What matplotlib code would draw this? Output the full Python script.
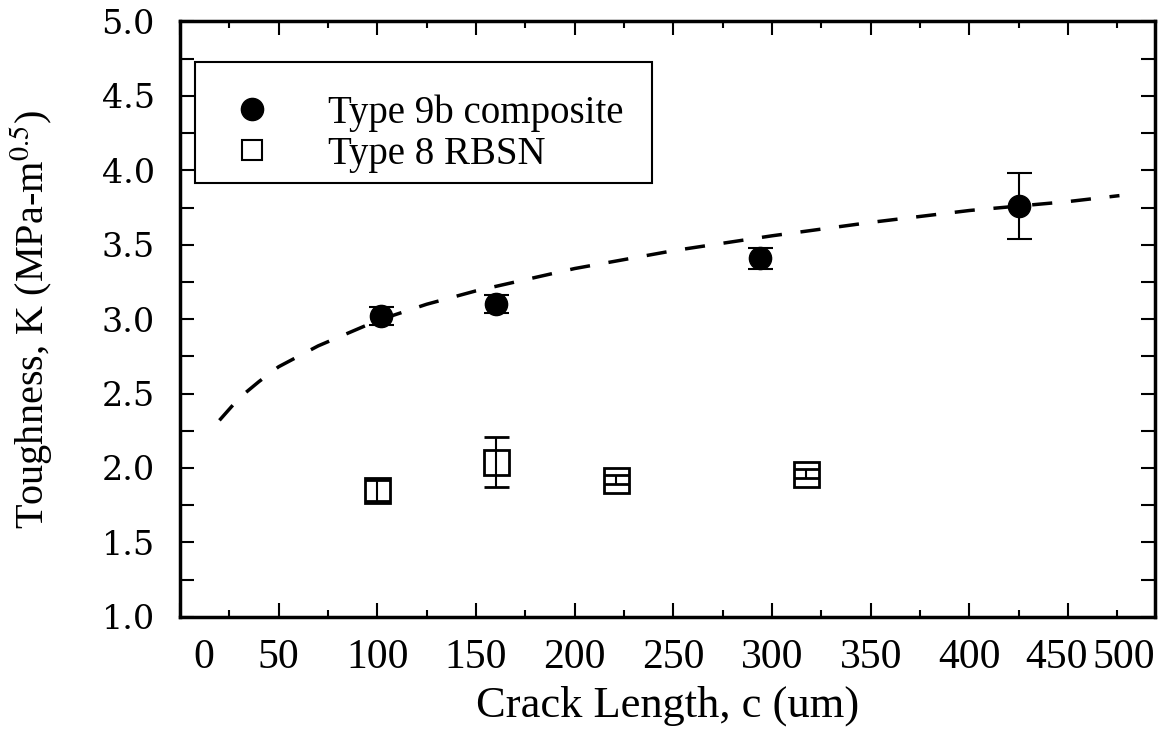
import matplotlib
matplotlib.use("Agg")
import matplotlib.pyplot as plt
from matplotlib.lines import Line2D
from matplotlib.patches import Rectangle
from matplotlib.ticker import MultipleLocator
from matplotlib.transforms import ScaledTranslation

plt.rcParams['font.family'] = ['Liberation Serif', 'DejaVu Serif']
plt.rcParams['mathtext.fontset'] = 'stix'

# Type 9b composite (filled circles)
comp_c = [102, 160, 294, 425]
comp_k = [3.02, 3.10, 3.41, 3.76]
comp_err = [0.06, 0.06, 0.07, 0.22]

# Type 8 RBSN (open squares)
rbsn_c = [100, 160, 221, 317]
rbsn_k = [1.85, 2.04, 1.92, 1.96]
rbsn_err = [0.07, 0.17, 0.03, 0.03]

# dashed fit curve
fit_c = [20, 30, 40, 50, 70, 100, 125, 150, 200, 250, 300, 350, 400, 450, 476]
fit_k = [2.32, 2.47, 2.58, 2.68, 2.82, 2.99, 3.10, 3.19, 3.34, 3.46, 3.56, 3.65, 3.73, 3.79, 3.83]

xticks = [0, 50, 100, 150, 200, 250, 300, 350, 400, 450]
yticks = [1.0, 1.5, 2.0, 2.5, 3.0, 3.5, 4.0, 4.5, 5.0]

fig = plt.figure(figsize=(11.58, 7.36), dpi=100)
ax = fig.add_axes([0.1554, 0.162, 0.842, 0.8088])

ax.plot(fit_c, fit_k, color='black', lw=2.5, dashes=(5.8, 5.4))

ax.errorbar(comp_c, comp_k, yerr=comp_err, fmt='o', color='black', ms=16,
            ecolor='black', elinewidth=1.5, capsize=9, capthick=1.5, zorder=3)
ax.errorbar(rbsn_c, rbsn_k, yerr=rbsn_err, fmt='s', color='black', ms=18,
            mfc='none', mec='black', mew=2, ecolor='black', elinewidth=1.5,
            capsize=9, capthick=1.5, zorder=3)

ax.set_xlim(0, 494)
ax.set_ylim(1.0, 5.0)
ax.set_xticks(xticks)
ax.set_xticklabels([str(v) for v in xticks])
ax.xaxis.set_minor_locator(MultipleLocator(25))
ax.set_yticks(yticks)
ax.set_yticklabels(['%.1f' % v for v in yticks], family='DejaVu Serif', fontsize=24)
ax.yaxis.set_minor_locator(MultipleLocator(0.25))

ax.tick_params(axis='both', which='both', direction='in', top=True, right=True, width=1.5)
ax.tick_params(axis='x', which='major', length=10, pad=16, labelsize=30)
ax.tick_params(axis='x', which='minor', length=5)
ax.tick_params(axis='y', which='both', length=10, pad=18)
for s in ax.spines.values():
    s.set_linewidth(2.5)

# the old plot pushed the edge labels inward
xlabels = ax.get_xticklabels()
xlabels[0].set_transform(xlabels[0].get_transform() + ScaledTranslation(0.24, 0, fig.dpi_scale_trans))
xlabels[-1].set_transform(xlabels[-1].get_transform() + ScaledTranslation(-0.12, 0, fig.dpi_scale_trans))
ax.text(1.0, -0.037, '500', transform=ax.transAxes, ha='right', va='top', fontsize=30)

ax.set_xlabel('Crack Length, c (um)', fontsize=32)
ax.xaxis.set_label_coords(0.5, -0.115)
ax.set_ylabel('Toughness, K (MPa-m$^{0.5}$)', fontsize=29)
ax.yaxis.set_label_coords(-0.128, 0.5)

# legend: frame drawn separately so the rows can sit low in the box
ax.add_patch(Rectangle((0.0154, 0.7287), 0.4687, 0.2033, transform=ax.transAxes,
                       fill=True, facecolor='white', edgecolor='black', lw=1.5, zorder=4))
handles = [Line2D([], [], ls='none', marker='o', ms=16, color='black'),
           Line2D([], [], ls='none', marker='s', ms=14, mfc='none', mec='black', mew=1.5)]
leg = ax.legend(handles, ['Type 9b composite', 'Type 8 RBSN'], loc='upper left',
                bbox_to_anchor=(0.0338, 0.878), borderaxespad=0, fontsize=28,
                frameon=False, borderpad=0, labelspacing=0.1, handlelength=2.0,
                handletextpad=0.95)
leg.set_zorder(5)

fig.savefig('out.png', dpi=100)
